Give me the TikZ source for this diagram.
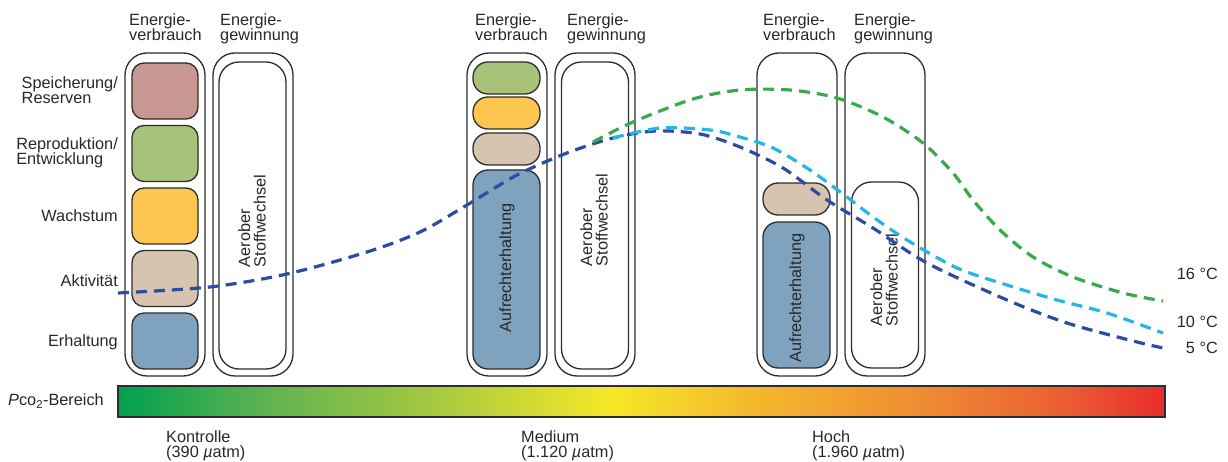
\documentclass[tikz,border=0pt]{standalone}
\usepackage{fontspec}
\setmainfont{Liberation Sans}
\usetikzlibrary{positioning}

\definecolor{speicher}{RGB}{201,151,145}
\definecolor{repro}{RGB}{169,194,122}
\definecolor{wachs}{RGB}{252,198,80}
\definecolor{aktiv}{RGB}{215,196,176}
\definecolor{erhalt}{RGB}{127,163,191}
\definecolor{linie}{RGB}{45,45,45}
\definecolor{textgrau}{RGB}{40,40,40}
\definecolor{fuenf}{RGB}{45,75,160}
\definecolor{zehn}{RGB}{40,180,230}
\definecolor{sechzehn}{RGB}{55,170,75}
% Farben fuer den Pco2-Balken
\definecolor{ga}{RGB}{0,160,80}
\definecolor{gb}{RGB}{100,180,80}
\definecolor{gc}{RGB}{165,200,65}
\definecolor{gd}{RGB}{245,232,40}
\definecolor{ge}{RGB}{245,185,45}
\definecolor{gf}{RGB}{240,145,50}
\definecolor{gg}{RGB}{235,95,50}
\definecolor{gh}{RGB}{232,45,45}
\pgfdeclarehorizontalshading{pcobereich}{100bp}{color(0bp)=(ga); color(25bp)=(ga);
  color(32.5bp)=(gb); color(40bp)=(gc); color(48.5bp)=(gd); color(55bp)=(ge);
  color(62.5bp)=(gf); color(70bp)=(gg); color(75bp)=(gh); color(100bp)=(gh)}

\begin{document}
\begin{tikzpicture}[x=1pt,y=-1pt,font=\fontsize{16.3}{15.5}\selectfont,text=textgrau,
    aussen/.style={draw=linie,line width=1.3pt,rounded corners=22pt,minimum width=80pt,minimum height=323pt,inner sep=0pt},
    innen/.style={draw=linie,line width=1.3pt,rounded corners=20pt,minimum width=67pt,inner sep=0pt},
    feld/.style={draw=linie,line width=1.3pt,rounded corners=12pt,minimum width=66pt,minimum height=56pt,inner sep=0pt},
    oval/.style={draw=linie,line width=1.3pt,rounded corners=15pt,minimum width=67pt,minimum height=32pt,inner sep=0pt},
    gross/.style={draw=linie,line width=1.3pt,rounded corners=15pt,minimum width=67pt,inner sep=0pt,fill=erhalt},
    kopf/.style={anchor=north west,align=left,inner sep=0pt},
    seite/.style={anchor=east,align=left,inner sep=0pt},
    dreh/.style={rotate=90,align=left,inner sep=0pt},
    kurve/.style={line width=3.2pt,dash pattern=on 11pt off 7pt}]
    \useasboundingbox (0,0) rectangle (1228,462);

    % Kontrolle
    \node[aussen] (verb1) at (165,214.5){};
    \node[aussen] (gew1) at (253,214.5){};
    \node[innen,minimum height=307pt] (aer1) at (252.5,215.5){};
    \node[dreh] (aer1txt) at (252,221){Aerober\\Stoffwechsel};
    \node[feld,fill=speicher] (speicher1) at (165,91){};
    \node[feld,fill=repro] (repro1) at (165,153.5){};
    \node[feld,fill=wachs] (wachs1) at (165,216){};
    \node[feld,fill=aktiv] (aktiv1) at (165,278.5){};
    \node[feld,fill=erhalt] (erhalt1) at (165,341){};
    \node[kopf] (kopfV1) at (129,13){Energie-\\verbrauch};
    \node[kopf] (kopfG1) at (220,13){Energie-\\gewinnung};

    \node[seite] (lspeicher) at (118,90){Speicherung/\\Reserven};
    \node[seite] (lrepro) at (118,153){Reproduktion/\\Entwicklung};
    \node[seite] (lwachs) at (118,216){Wachstum};
    \node[seite] (laktiv) at (118,281){Aktivität};
    \node[seite] (lerhalt) at (118,342){Erhaltung};

    % Medium
    \node[aussen] (verb2) at (507,214.5){};
    \node[aussen] (gew2) at (595,214.5){};
    \node[innen,minimum height=307pt] (aer2) at (595,215.5){};
    \node[dreh] (aer2txt) at (594,220){Aerober\\Stoffwechsel};
    \node[oval,fill=repro] (repro2) at (506.5,78){};
    \node[oval,fill=wachs] (wachs2) at (506.5,113){};
    \node[oval,fill=aktiv] (aktiv2) at (506.5,149){};
    \node[gross,minimum height=199pt] (erhalt2) at (506.5,269.5){};
    \node[dreh] (erhalt2txt) at (507,268){Aufrechterhaltung};
    \node[kopf] (kopfV2) at (475,13){Energie-\\verbrauch};
    \node[kopf] (kopfG2) at (567,13){Energie-\\gewinnung};

    % Hoch
    \node[aussen] (verb3) at (797,214.5){};
    \node[aussen] (gew3) at (885,214.5){};
    \node[innen,minimum height=186pt] (aer3) at (885,275){};
    \node[dreh] (aer3txt) at (884,280){Aerober\\Stoffwechsel};
    \node[oval,fill=aktiv] (aktiv3) at (796.5,199){};
    \node[gross,minimum height=146pt] (erhalt3) at (796.5,295){};
    \node[dreh] (erhalt3txt) at (797,298){Aufrechterhaltung};
    \node[kopf] (kopfV3) at (763,13){Energie-\\verbrauch};
    \node[kopf] (kopfG3) at (854,13){Energie-\\gewinnung};

    % Temperaturkurven
    \draw[kurve,fuenf] plot[smooth] coordinates {(118,293) (210,287) (287,274) (367,252) (420,232)
        (467,205) (517,175) (567,153) (613,138) (655,131) (700,134) (740,147) (783,168) (827,200)
        (873,228) (927,263) (1007,300) (1067,323) (1133,341) (1163,348)};
    \draw[kurve,zehn] plot[smooth] coordinates {(613,138) (660,128) (710,130) (740,137) (773,148)
        (810,170) (847,197) (873,217) (907,240) (957,268) (1007,285) (1057,300) (1107,313) (1163,333)};
    \draw[kurve,sechzehn] plot[smooth] coordinates {(593,142) (633,122) (693,99) (740,90) (790,90)
        (837,98) (883,117) (923,143) (953,173) (973,200) (1000,230) (1033,257) (1073,277)
        (1123,293) (1163,301)};
    \node[anchor=east,inner sep=0pt] (t16) at (1218,274){16 °C};
    \node[anchor=east,inner sep=0pt] (t10) at (1218,322){10 °C};
    \node[anchor=east,inner sep=0pt] (t5) at (1218,348){5 °C};

    % Pco2-Bereich
    \node[draw=linie,line width=1.3pt,shading=pcobereich,minimum width=1047pt,minimum height=31pt,inner sep=0pt] (balken) at (641.5,401.5){};
    \node[anchor=east,inner sep=0pt] (lpco) at (104,401){\textit{P}co\textsubscript{2}-Bereich};
    \node[kopf] (kontrolle) at (166,430){Kontrolle\\(390 \textit{µ}atm)};
    \node[kopf] (medium) at (521,430){Medium\\(1.120 \textit{µ}atm)};
    \node[kopf] (hoch) at (812,430){Hoch\\(1.960 \textit{µ}atm)};
\end{tikzpicture}
\end{document}
